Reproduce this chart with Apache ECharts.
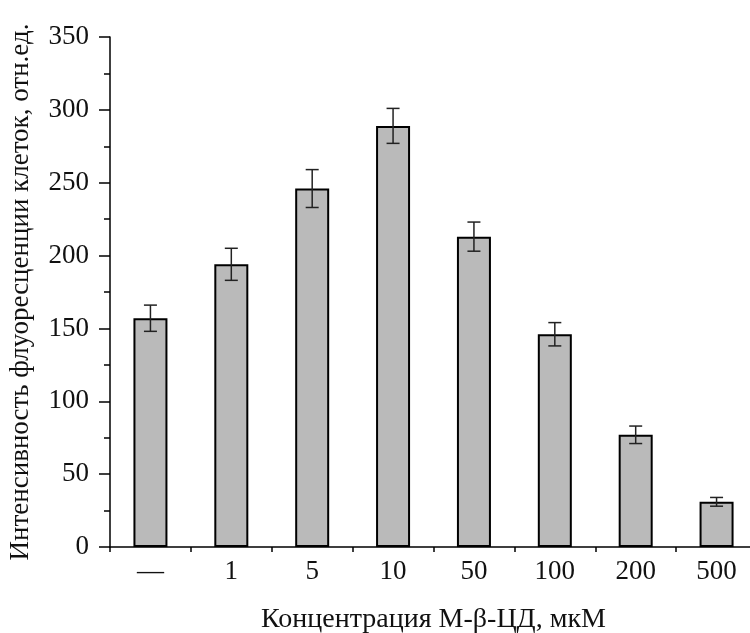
<!DOCTYPE html>
<html>
<head>
<meta charset="utf-8">
<script src="https://cdn.jsdelivr.net/npm/echarts@6/dist/echarts.min.js"></script>
<style>
html,body{margin:0;padding:0;background:#fff;}
#chart{width:750px;height:633px;}
</style>
</head>
<body>
<div id="chart"></div>
<script>
var categories = ['—', '1', '5', '10', '50', '100', '200', '500'];
var values = [157, 194, 246, 289, 213, 146, 77, 31];
var errors = [9, 11, 13, 12, 10, 8, 6, 3];
var yTicks = { min: 0, max: 350, interval: 50 };
var xName = 'Концентрация М-β-ЦД, мкМ';
var yName = 'Интенсивность флуоресценции клеток, отн.ед.';

var font = 'Liberation Serif';
var chart = echarts.init(document.getElementById('chart'), null, { renderer: 'canvas' });

var errData = values.map(function (v, i) { return [i, v - errors[i], v + errors[i]]; });

chart.setOption({
  animation: false,
  backgroundColor: '#fff',
  grid: { left: 110, top: 37, right: -7, bottom: 86, containLabel: false, outerBoundsMode: 'none' },
  xAxis: {
    type: 'category',
    data: categories,
    boundaryGap: true,
    name: xName,
    nameLocation: 'middle',
    nameGap: 59,
    nameTextStyle: { fontFamily: font, fontSize: 28, color: '#111' },
    axisLine: { show: true, lineStyle: { color: '#000', width: 1.5 } },
    axisTick: { show: true, inside: false, length: 5, alignWithLabel: false, lineStyle: { color: '#000', width: 1.5 } },
    axisLabel: { fontFamily: font, fontSize: 27, color: '#111', margin: 11 },
    splitLine: { show: false }
  },
  yAxis: {
    type: 'value',
    min: yTicks.min,
    max: yTicks.max,
    interval: yTicks.interval,
    name: yName,
    nameLocation: 'middle',
    nameGap: 76,
    nameRotate: 90,
    nameTextStyle: { fontFamily: font, fontSize: 27, color: '#111' },
    axisLine: { show: true, lineStyle: { color: '#000', width: 1.5 } },
    axisTick: { show: true, inside: false, length: 11, lineStyle: { color: '#000', width: 1.5 } },
    minorTick: { show: true, splitNumber: 2, length: 6, lineStyle: { color: '#000', width: 1.5 } },
    axisLabel: { fontFamily: font, fontSize: 27, color: '#111', margin: 21 },
    splitLine: { show: false }
  },
  series: [
    {
      type: 'bar',
      data: values,
      barWidth: 34,
      itemStyle: { color: '#bababa', borderColor: '#000', borderWidth: 2 }
    },
    {
      type: 'custom',
      data: errData,
      z: 10,
      renderItem: function (params, api) {
        var x = api.value(0);
        var lo = api.coord([x, api.value(1)]);
        var hi = api.coord([x, api.value(2)]);
        var hw = 6.5;
        var st = { stroke: '#222', lineWidth: 1.5 };
        return {
          type: 'group',
          children: [
            { type: 'line', shape: { x1: lo[0], y1: lo[1], x2: hi[0], y2: hi[1] }, style: st },
            { type: 'line', shape: { x1: hi[0] - hw, y1: hi[1], x2: hi[0] + hw, y2: hi[1] }, style: st },
            { type: 'line', shape: { x1: lo[0] - hw, y1: lo[1], x2: lo[0] + hw, y2: lo[1] }, style: st }
          ]
        };
      }
    }
  ]
});
</script>
</body>
</html>
